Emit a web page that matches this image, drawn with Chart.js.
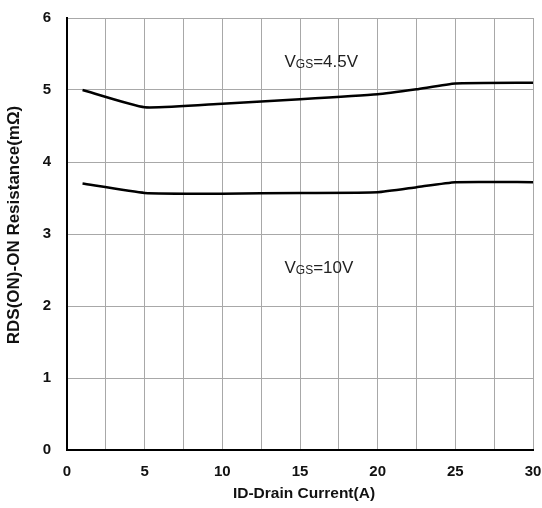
<!DOCTYPE html>
<html><head><meta charset="utf-8">
<script src="https://cdn.jsdelivr.net/npm/chart.js@4/dist/chart.umd.min.js"></script>
<style>html,body{margin:0;padding:0;background:#fff}#wrap{width:542px;height:508px}</style>
</head><body><div id="wrap"><canvas id="c" width="542" height="508"></canvas></div>
<script>
const currentA = [1, 5, 10, 15, 20, 22.5, 25, 30];
const rdsVgs45 = [5.00, 4.76, 4.81, 4.87, 4.94, 5.01, 5.09, 5.10];
const rdsVgs10 = [3.70, 3.57, 3.56, 3.57, 3.58, 3.65, 3.72, 3.72];
const seriesLabels = ['VGS=4.5V', 'VGS=10V'];
const labelPos = [{x: 14, y: 5.38}, {x: 14, y: 2.52}];
const xTitle = 'ID-Drain Current(A)';
const yTitle = 'RDS(ON)-ON Resistance(mΩ)';

const FONT = '"Liberation Sans", Arial, sans-serif';
const pts = ys => currentA.map((x, i) => ({x, y: ys[i]}));

const annot = {
  id: 'annot',
  afterDatasetsDraw(chart) {
    const {ctx, scales: {x, y}, chartArea: ca} = chart;
    ctx.save();
    ctx.fillStyle = '#222';
    ctx.textBaseline = 'middle';
    labelPos.forEach((p, i) => {
      const txt = seriesLabels[i];
      let px = x.getPixelForValue(p.x), py = y.getPixelForValue(p.y);
      ctx.font = '17px ' + FONT;
      ctx.fillText(txt[0], px, py); px += ctx.measureText(txt[0]).width;
      ctx.font = '12px ' + FONT;
      ctx.fillText(txt.slice(1, 3), px, py + 2); px += ctx.measureText(txt.slice(1, 3)).width;
      ctx.font = '17px ' + FONT;
      ctx.fillText(txt.slice(3), px, py);
    });
    // axis titles
    ctx.fillStyle = '#111';
    ctx.textAlign = 'center';
    ctx.font = 'bold 15.5px ' + FONT;
    ctx.fillText(xTitle, (ca.left + ca.right) / 2 + 4, 494);
    ctx.translate(14, (ca.top + ca.bottom) / 2 - 9);
    ctx.rotate(-Math.PI / 2);
    ctx.font = 'bold 17px ' + FONT;
    ctx.fillText(yTitle, 0, 0);
    ctx.restore();
  }
};

new Chart(document.getElementById('c'), {
  type: 'line',
  data: {
    datasets: [
      {label: seriesLabels[0], data: pts(rdsVgs45), borderColor: '#000', borderWidth: 2.5, pointRadius: 0, tension: 0.15, fill: false},
      {label: seriesLabels[1], data: pts(rdsVgs10), borderColor: '#000', borderWidth: 2.5, pointRadius: 0, tension: 0.15, fill: false}
    ]
  },
  options: {
    responsive: false, animation: false,
    layout: {padding: {left: 0, right: 9, top: 18, bottom: 0}},
    plugins: {legend: {display: false}, tooltip: {enabled: false}},
    scales: {
      x: {
        type: 'linear', min: 0, max: 30,
        ticks: {stepSize: 2.5, padding: 13, color: '#111', font: {family: FONT, size: 15, weight: 'bold'},
          callback: v => (v % 5 === 0 ? String(v) : '')},
        grid: {color: '#a8a8a8', lineWidth: 1, drawTicks: false},
        border: {color: '#000', width: 2},
        afterFit: s => { s.height = 58; s.paddingLeft = 0; s.paddingRight = 0; }
      },
      y: {
        min: 0, max: 6,
        ticks: {stepSize: 1, padding: 16, color: '#111', font: {family: FONT, size: 15, weight: 'bold'}},
        grid: {color: '#a8a8a8', lineWidth: 1, drawTicks: false},
        border: {color: '#000', width: 2},
        afterFit: s => { s.width = 67; s.paddingTop = 0; s.paddingBottom = 0; }
      }
    }
  },
  plugins: [annot]
});
</script>
</body></html>
